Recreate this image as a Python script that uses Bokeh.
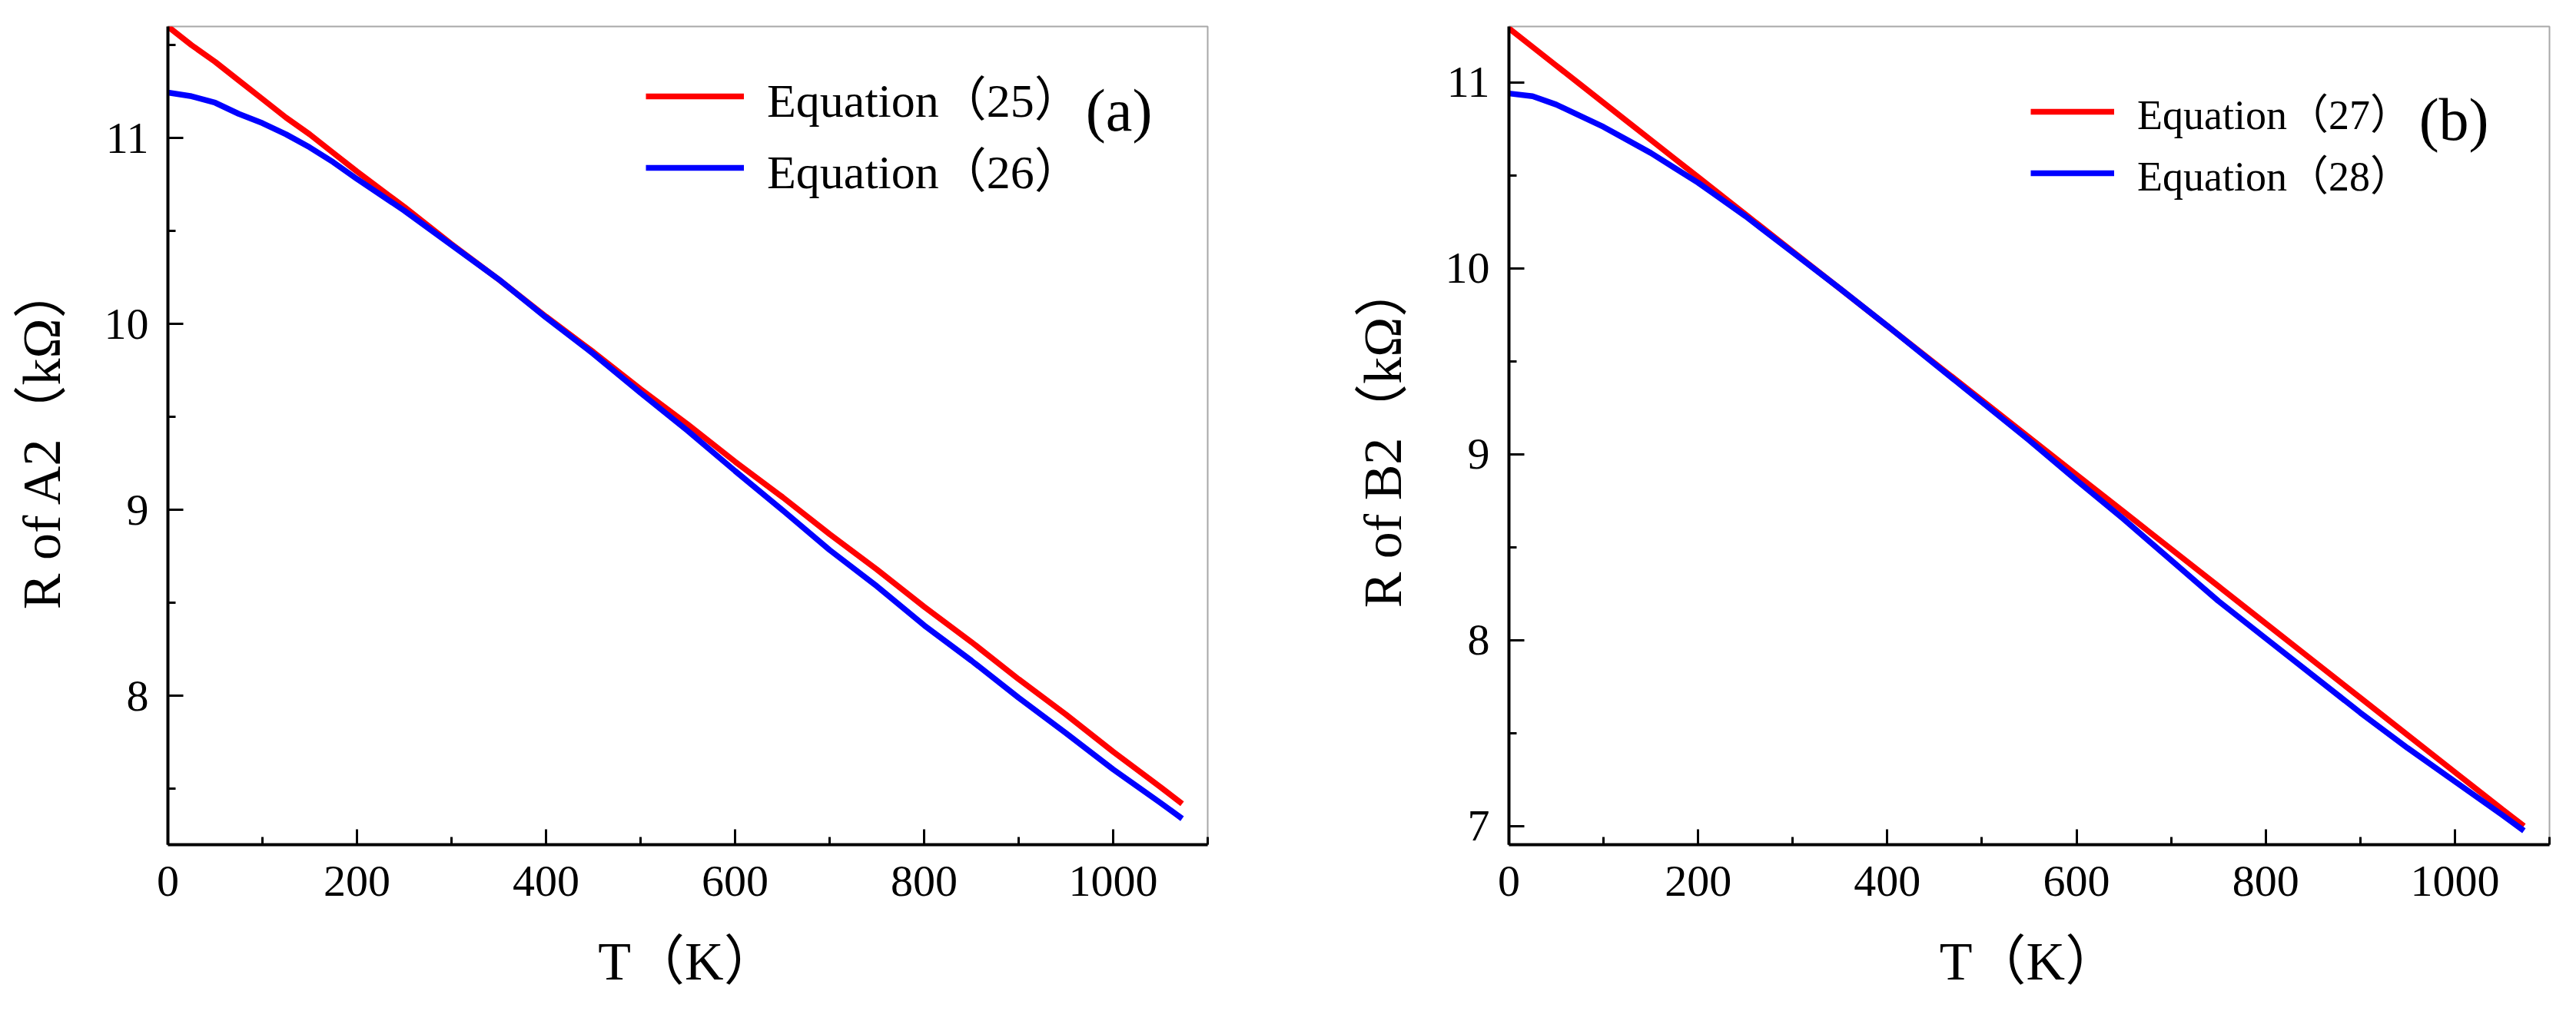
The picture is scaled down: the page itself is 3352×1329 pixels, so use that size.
from bokeh.plotting import figure
from bokeh.layouts import row
from bokeh.models import Range1d, FixedTicker, Legend, LegendItem, Label
from bokeh.embed import file_html
from bokeh.resources import INLINE

# ---- data ----
T = [0, 25, 50, 75, 100, 125, 150, 175, 200, 250, 300, 350, 400, 450, 500,
     550, 600, 650, 700, 750, 800, 850, 900, 950, 1000, 1050, 1073]

eq25 = [11.60, 11.50, 11.41, 11.31, 11.21, 11.11, 11.02, 10.92, 10.82, 10.63,
        10.43, 10.24, 10.04, 9.85, 9.65, 9.46, 9.26, 9.07, 8.87, 8.68, 8.48,
        8.29, 8.09, 7.90, 7.70, 7.51, 7.42]
eq26 = [11.245, 11.225, 11.19, 11.13, 11.08, 11.02, 10.95, 10.87, 10.78, 10.61,
        10.425, 10.24, 10.035, 9.84, 9.63, 9.425, 9.21, 9.00, 8.785, 8.59, 8.38,
        8.19, 7.99, 7.80, 7.605, 7.425, 7.34]

eq27 = [11.29, 11.19, 11.09, 10.99, 10.89, 10.79, 10.69, 10.59, 10.49, 10.29,
        10.09, 9.89, 9.69, 9.49, 9.29, 9.09, 8.89, 8.69, 8.49, 8.29, 8.09,
        7.89, 7.69, 7.49, 7.29, 7.09, 7.00]
eq28 = [10.94, 10.925, 10.88, 10.82, 10.76, 10.69, 10.62, 10.54, 10.46, 10.28,
        10.085, 9.89, 9.69, 9.485, 9.28, 9.075, 8.86, 8.65, 8.43, 8.21, 8.01,
        7.81, 7.61, 7.42, 7.24, 7.06, 6.975]

x_major = [0, 200, 400, 600, 800, 1000]
x_minor = [100, 300, 500, 700, 900, 1100]
ya_major = [8, 9, 10, 11]
ya_minor = [7.5, 8.5, 9.5, 10.5, 11.5]
yb_major = [7, 8, 9, 10, 11]
yb_minor = [7.5, 8.5, 9.5, 10.5]

SERIF = "'Liberation Serif', 'Times New Roman', 'Noto Sans CJK SC', serif"


def panel(width, bl, br, ylab, yr, ymaj, ymin, s1, s2, n1, n2, tag,
          leg_x, leg_y, leg_fs, glyph_w, leg_spacing, tag_x, tag_y):
    p = figure(width=width, height=1329, output_backend="svg",
               toolbar_location=None, x_range=Range1d(0, 1100),
               y_range=Range1d(*yr), min_border_left=bl, min_border_right=br,
               min_border_top=34, min_border_bottom=230)
    p.grid.visible = False
    p.outline_line_color = "#a8a8a8"
    p.outline_line_width = 2
    p.background_fill_color = "white"
    p.border_fill_color = "white"

    p.xaxis.ticker = FixedTicker(ticks=x_major, minor_ticks=x_minor)
    p.yaxis.ticker = FixedTicker(ticks=ymaj, minor_ticks=ymin)
    for ax in (p.xaxis[0], p.yaxis[0]):
        ax.axis_line_width = 4
        ax.axis_line_color = "black"
        ax.major_tick_in = 20
        ax.major_tick_out = 0
        ax.minor_tick_in = 10
        ax.minor_tick_out = 0
        ax.major_tick_line_width = 3
        ax.minor_tick_line_width = 3
        ax.major_tick_line_color = "black"
        ax.minor_tick_line_color = "black"
        ax.major_label_text_font = SERIF
        ax.major_label_text_font_size = "58px"
        ax.major_label_text_color = "black"
        ax.axis_label_text_font = SERIF
        ax.axis_label_text_font_size = "70px"
        ax.axis_label_text_font_style = "normal"
        ax.axis_label_text_color = "black"
    p.xaxis.major_label_standoff = 28
    p.yaxis.major_label_standoff = 25
    p.xaxis.axis_label = "T（K）"
    p.yaxis.axis_label = ylab
    p.xaxis.axis_label_standoff = 44
    p.yaxis.axis_label_standoff = 40

    r1 = p.line(T, s1, line_color="#ff0000", line_width=7.5)
    r2 = p.line(T, s2, line_color="#0000ff", line_width=7.5)

    leg = Legend(items=[LegendItem(label=n1, renderers=[r1]),
                        LegendItem(label=n2, renderers=[r2])],
                 location=(leg_x, leg_y))
    leg.border_line_alpha = 0
    leg.background_fill_alpha = 0
    leg.padding = 0
    leg.margin = 0
    leg.glyph_width = glyph_w
    leg.label_standoff = 30
    leg.spacing = leg_spacing
    leg.label_text_font = SERIF
    leg.label_text_font_size = leg_fs
    leg.label_text_color = "black"
    p.add_layout(leg)

    p.add_layout(Label(x=tag_x, y=tag_y, text=tag, text_font=SERIF,
                       text_font_size="78px", text_color="black",
                       text_align="left", text_baseline="middle"))
    return p


pa = panel(1700, 218, 129, "R of A2（kΩ）", (7.2, 11.6), ya_major, ya_minor,
           eq25, eq26, "Equation（25）", "Equation（26）", "(a)",
           622, 836, "62px", 128, 3, 971, 11.15)
pb = panel(1652, 263, 35, "R of B2（kΩ）", (6.9, 11.3), yb_major, yb_minor,
           eq27, eq28, "Equation（27）", "Equation（28）", "(b)",
           679, 835, "54px", 109, 1, 962, 10.80)

layout = row(pa, pb)
open("out.html", "w").write(file_html(layout, INLINE))
